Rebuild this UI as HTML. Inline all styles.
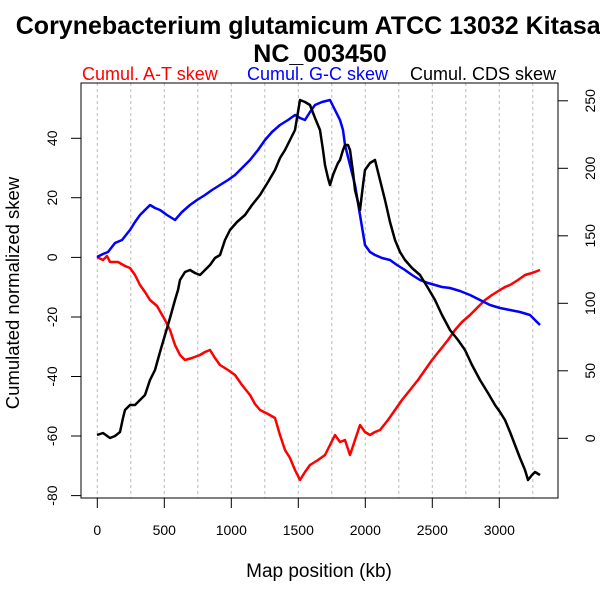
<!DOCTYPE html>
<html><head><style>body{margin:0;background:#fff}</style></head><body>
<svg width="600" height="600" xmlns="http://www.w3.org/2000/svg" font-family="Liberation Sans, sans-serif">
<rect width="600" height="600" fill="#fff"/>
<text x="320" y="34" font-size="25" font-weight="bold" text-anchor="middle">Corynebacterium glutamicum ATCC 13032 Kitasato</text>
<text x="320" y="62" font-size="25" font-weight="bold" text-anchor="middle">NC_003450</text>
<text x="82" y="80" font-size="18" fill="#f00">Cumul. A-T skew</text>
<text x="247" y="80" font-size="18" fill="#00f">Cumul. G-C skew</text>
<text x="410" y="80" font-size="18" fill="#000">Cumul. CDS skew</text>
<g stroke="#bbb" stroke-dasharray="3,3" stroke-width="1">
<line x1="97.3" y1="83" x2="97.3" y2="498"/><line x1="130.8" y1="83" x2="130.8" y2="498"/><line x1="164.3" y1="83" x2="164.3" y2="498"/><line x1="197.8" y1="83" x2="197.8" y2="498"/><line x1="231.3" y1="83" x2="231.3" y2="498"/><line x1="264.8" y1="83" x2="264.8" y2="498"/><line x1="298.3" y1="83" x2="298.3" y2="498"/><line x1="331.8" y1="83" x2="331.8" y2="498"/><line x1="365.3" y1="83" x2="365.3" y2="498"/><line x1="398.8" y1="83" x2="398.8" y2="498"/><line x1="432.3" y1="83" x2="432.3" y2="498"/><line x1="465.8" y1="83" x2="465.8" y2="498"/><line x1="499.3" y1="83" x2="499.3" y2="498"/><line x1="532.8" y1="83" x2="532.8" y2="498"/>
</g>
<rect x="81" y="83" width="477" height="415" fill="none" stroke="#000"/>
<g stroke="#000">
<line x1="97.3" y1="498" x2="97.3" y2="508"/><line x1="164.3" y1="498" x2="164.3" y2="508"/><line x1="231.3" y1="498" x2="231.3" y2="508"/><line x1="298.3" y1="498" x2="298.3" y2="508"/><line x1="365.3" y1="498" x2="365.3" y2="508"/><line x1="432.3" y1="498" x2="432.3" y2="508"/><line x1="499.3" y1="498" x2="499.3" y2="508"/>
<line x1="71" y1="495.6" x2="81" y2="495.6"/><line x1="71" y1="436" x2="81" y2="436"/><line x1="71" y1="376.5" x2="81" y2="376.5"/><line x1="71" y1="317" x2="81" y2="317"/><line x1="71" y1="257.4" x2="81" y2="257.4"/><line x1="71" y1="197.7" x2="81" y2="197.7"/><line x1="71" y1="138.3" x2="81" y2="138.3"/>
<line x1="558" y1="438.3" x2="568" y2="438.3"/><line x1="558" y1="370.8" x2="568" y2="370.8"/><line x1="558" y1="303.3" x2="568" y2="303.3"/><line x1="558" y1="235.8" x2="568" y2="235.8"/><line x1="558" y1="168.3" x2="568" y2="168.3"/><line x1="558" y1="100.8" x2="568" y2="100.8"/>
</g>
<g font-size="14" text-anchor="middle">
<text x="97.3" y="535">0</text><text x="164.3" y="535">500</text><text x="231.3" y="535">1000</text><text x="298.3" y="535">1500</text><text x="365.3" y="535">2000</text><text x="432.3" y="535">2500</text><text x="499.3" y="535">3000</text>
<text transform="translate(57,495.6) rotate(-90)">-80</text><text transform="translate(57,436) rotate(-90)">-60</text><text transform="translate(57,376.5) rotate(-90)">-40</text><text transform="translate(57,317) rotate(-90)">-20</text><text transform="translate(57,257.4) rotate(-90)">0</text><text transform="translate(57,197.7) rotate(-90)">20</text><text transform="translate(57,138.3) rotate(-90)">40</text>
<text transform="translate(595,438.3) rotate(-90)">0</text><text transform="translate(595,370.8) rotate(-90)">50</text><text transform="translate(595,303.3) rotate(-90)">100</text><text transform="translate(595,235.8) rotate(-90)">150</text><text transform="translate(595,168.3) rotate(-90)">200</text><text transform="translate(595,100.8) rotate(-90)">250</text>
</g>
<text x="319" y="577" font-size="19" text-anchor="middle">Map position (kb)</text>
<text transform="translate(19,293) rotate(-90)" font-size="18.5" text-anchor="middle">Cumulated normalized skew</text>
<g fill="none" stroke-width="2.5" stroke-linejoin="round">
<polyline stroke="#f00" points="97,257 103,260 107,256 110,262 118,262 125,266 130,268 135,275 140,285 145,292 150,300 157,306 165,320 170,330 175,345 180,355 185,360 192,358 200,355 205,352 210,350 215,358 220,365 228,370 235,375 242,385 250,395 255,404 260,410 268,414 275,418 280,435 285,450 290,458 295,470 300,480 305,472 310,465 318,460 325,455 330,445 335,435 340,442 345,440 350,455 355,440 360,425 365,432 370,435 375,432 380,430 388,420 395,410 402,400 410,390 418,380 425,370 432,360 440,350 448,340 455,330 462,322 470,315 478,307 485,300 492,295 500,290 505,287 510,285 518,280 525,275 532,273 540,270"/>
<polyline stroke="#00f" points="97,257 103,254 108,252 115,243 122,240 130,230 135,222 140,215 145,210 150,205 155,208 160,210 167,215 175,220 182,212 190,205 197,200 205,195 212,190 220,185 228,180 235,175 242,168 250,160 258,150 265,140 272,132 280,125 288,120 295,115 300,118 305,120 310,112 315,105 322,102 330,100 335,110 340,120 343,130 345,145 350,165 355,185 360,215 365,245 370,252 375,255 382,258 390,260 397,265 405,270 412,275 420,280 428,283 435,285 442,287 450,288 460,291 470,295 480,300 490,305 500,308 510,310 520,312 530,315 535,320 540,325"/>
<polyline stroke="#000" points="97,435 103,433 110,438 115,436 120,432 123,418 125,410 130,405 135,405 140,400 145,395 150,380 155,370 160,352 165,335 170,318 175,300 178,290 180,280 185,272 190,270 195,273 200,275 205,270 210,265 215,258 220,255 225,240 230,230 237,222 245,215 252,205 260,195 268,182 275,170 280,158 285,150 290,140 295,130 298,112 300,100 305,102 310,105 315,118 320,130 323,150 325,165 328,178 330,185 333,175 335,170 338,163 340,160 343,150 345,145 348,145 350,150 353,172 355,190 358,202 360,210 363,185 365,170 370,163 375,160 380,180 385,200 390,222 395,240 400,252 405,260 412,268 420,275 428,288 435,300 442,315 450,330 458,340 465,350 472,365 480,380 488,393 495,405 500,412 505,420 510,432 515,445 520,458 525,470 528,480 532,475 535,472 540,475"/>
</g>
</svg>
</body></html>
